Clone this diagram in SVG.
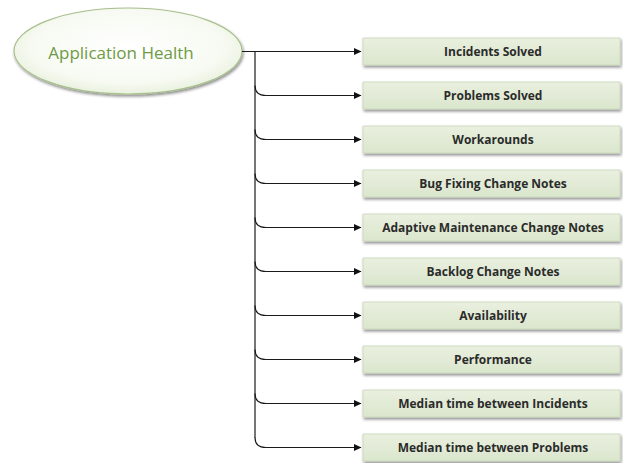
<svg xmlns="http://www.w3.org/2000/svg" width="623" height="463" viewBox="0 0 623 463">
<defs>
<radialGradient id="eg" cx="0.5" cy="0.45" r="0.6">
<stop offset="0" stop-color="#ffffff"/>
<stop offset="0.7" stop-color="#f7faf2"/>
<stop offset="1" stop-color="#e4eed8"/>
</radialGradient>
<linearGradient id="bg" x1="0" y1="0" x2="0" y2="1">
<stop offset="0" stop-color="#e9f0df"/>
<stop offset="1" stop-color="#dbe6cd"/>
</linearGradient>
<filter id="sh" x="-10%" y="-20%" width="130%" height="160%">
<feGaussianBlur in="SourceAlpha" stdDeviation="1.5"/>
<feOffset dx="1" dy="2"/>
<feComponentTransfer><feFuncA type="linear" slope="0.45"/></feComponentTransfer>
<feMerge><feMergeNode/><feMergeNode in="SourceGraphic"/></feMerge>
</filter>
<marker id="ah" markerWidth="8" markerHeight="8" refX="7" refY="4" orient="auto" markerUnits="userSpaceOnUse">
<path d="M0,0.5 L7.5,4 L0,7.5 Z" fill="#111"/>
</marker>
</defs>
<style>
.box{fill:url(#bg);stroke:#c9d6b8;stroke-width:0.8;filter:url(#sh)}
.lbl{font-family:"Open Sans","Liberation Sans",sans-serif;font-weight:bold;font-size:12px;fill:#2b2b2b;text-anchor:middle;dominant-baseline:central}
.c{fill:none;stroke:#1a1a1a;stroke-width:1.2}
</style>
<g id="root">
<ellipse cx="128" cy="51" rx="114" ry="43" fill="url(#eg)" stroke="#a9bf8e" stroke-width="1.2" filter="url(#sh)"/>
<text x="121" y="52" font-family="'Open Sans','Liberation Sans',sans-serif" font-size="17" fill="#6f9a45" text-anchor="middle" dominant-baseline="central">Application Health</text>
</g>
<g id="connectors">
<path class="c" d="M242,51.5 L361,51.5" marker-end="url(#ah)"/>
<path class="c" d="M255,51.5 L255,438"/>
<path class="c" d="M255,85.5 Q255,95.5 266,95.5 L361,95.5" marker-end="url(#ah)"/>
<path class="c" d="M255,129.5 Q255,139.5 266,139.5 L361,139.5" marker-end="url(#ah)"/>
<path class="c" d="M255,173.5 Q255,183.5 266,183.5 L361,183.5" marker-end="url(#ah)"/>
<path class="c" d="M255,217.5 Q255,227.5 266,227.5 L361,227.5" marker-end="url(#ah)"/>
<path class="c" d="M255,261.5 Q255,271.5 266,271.5 L361,271.5" marker-end="url(#ah)"/>
<path class="c" d="M255,305.5 Q255,315.5 266,315.5 L361,315.5" marker-end="url(#ah)"/>
<path class="c" d="M255,349.5 Q255,359.5 266,359.5 L361,359.5" marker-end="url(#ah)"/>
<path class="c" d="M255,393.5 Q255,403.5 266,403.5 L361,403.5" marker-end="url(#ah)"/>
<path class="c" d="M255,437.5 Q255,447.5 266,447.5 L361,447.5" marker-end="url(#ah)"/>
</g>
<g id="n1"><rect class="box" x="363" y="38" width="257" height="27"/><text class="lbl" x="493" y="51.5">Incidents Solved</text></g>
<g id="n2"><rect class="box" x="363" y="82" width="257" height="27"/><text class="lbl" x="493" y="95.5">Problems Solved</text></g>
<g id="n3"><rect class="box" x="363" y="126" width="257" height="27"/><text class="lbl" x="493" y="139.5">Workarounds</text></g>
<g id="n4"><rect class="box" x="363" y="170" width="257" height="27"/><text class="lbl" x="493" y="183.5">Bug Fixing Change Notes</text></g>
<g id="n5"><rect class="box" x="363" y="214" width="257" height="27"/><text class="lbl" x="493" y="227.5">Adaptive Maintenance Change Notes</text></g>
<g id="n6"><rect class="box" x="363" y="258" width="257" height="27"/><text class="lbl" x="493" y="271.5">Backlog Change Notes</text></g>
<g id="n7"><rect class="box" x="363" y="302" width="257" height="27"/><text class="lbl" x="493" y="315.5">Availability</text></g>
<g id="n8"><rect class="box" x="363" y="346" width="257" height="27"/><text class="lbl" x="493" y="359.5">Performance</text></g>
<g id="n9"><rect class="box" x="363" y="390" width="257" height="27"/><text class="lbl" x="493" y="403.5">Median time between Incidents</text></g>
<g id="n10"><rect class="box" x="363" y="434" width="257" height="27"/><text class="lbl" x="493" y="447.5">Median time between Problems</text></g>
</svg>
